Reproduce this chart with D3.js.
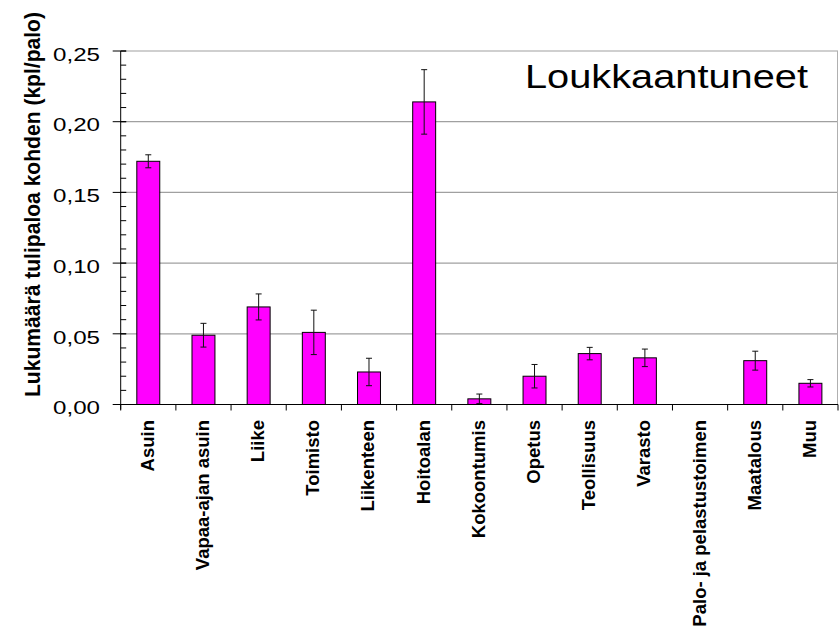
<!DOCTYPE html>
<html>
<head>
<meta charset="utf-8">
<script src="https://cdn.jsdelivr.net/npm/d3@7"></script>
<style>
  html, body { margin: 0; padding: 0; background: #fff; }
  svg { display: block; }
  text { font-family: Arial, "Liberation Sans", sans-serif; }
</style>
</head>
<body>
<svg id="chart" width="840" height="631"></svg>
<script>
const categories = ["Asuin", "Vapaa-ajan asuin", "Liike", "Toimisto", "Liikenteen", "Hoitoalan",
  "Kokoontumis", "Opetus", "Teollisuus", "Varasto", "Palo- ja pelastustoimen", "Maatalous", "Muu"];
const values = [0.172, 0.049, 0.069, 0.051, 0.023, 0.214, 0.004, 0.020, 0.036, 0.033, 0.000, 0.031, 0.015];
const errors = [0.0046, 0.0084, 0.0092, 0.0157, 0.0097, 0.0228, 0.0034, 0.0083, 0.0044, 0.0062, 0.0000, 0.0067, 0.0026];
const yTicks = [0, 0.05, 0.10, 0.15, 0.20, 0.25];
const yMinorTicks = d3.range(0, 0.2501, 0.01);
const chartTitle = "Loukkaantuneet";
const yTitle = "Lukumäärä tulipaloa kohden (kpl/palo)";

const pL = 120.7, pR = 838, pT = 51, pB = 404.5;
const svg = d3.select("#chart");

const x = d3.scaleBand().domain(categories).range([pL, pR]).paddingInner(0.584).paddingOuter(0.292);
const xb = d3.scaleBand().domain(categories).range([pL, pR]).padding(0);
const y = d3.scaleLinear().domain([0, 0.25]).range([pB, pT]);
const fmt = d3.formatLocale({decimal: ",", thousands: " ", grouping: [3], currency: ["", "€"]}).format(".2f");

// gridlines
svg.append("g").selectAll("line").data(yTicks.filter(d => d > 0)).join("line")
  .attr("x1", pL).attr("x2", pR)
  .attr("y1", d => y(d)).attr("y2", d => y(d))
  .attr("stroke", "#a0a0a0").attr("stroke-width", 1.2);

// right border
svg.append("line").attr("x1", pR - 0.5).attr("x2", pR - 0.5).attr("y1", pT).attr("y2", pB)
  .attr("stroke", "#b0b0b0").attr("stroke-width", 1);

// bars
svg.append("g").selectAll("rect").data(categories).join("rect")
  .attr("x", d => x(d)).attr("width", x.bandwidth())
  .attr("y", (d, i) => y(values[i])).attr("height", (d, i) => y(0) - y(values[i]))
  .attr("fill", "#ff00ff").attr("stroke", "#000").attr("stroke-width", 1);

// error bars
const eb = svg.append("g").attr("stroke", "#111").attr("stroke-width", 1);
categories.forEach((c, i) => {
  if (errors[i] <= 0) return;
  const cx = x(c) + x.bandwidth() / 2;
  const y1 = y(values[i] + errors[i]), y2 = y(Math.max(0, values[i] - errors[i]));
  eb.append("line").attr("x1", cx).attr("x2", cx).attr("y1", y1).attr("y2", y2);
  eb.append("line").attr("x1", cx - 3).attr("x2", cx + 3).attr("y1", y1).attr("y2", y1);
  eb.append("line").attr("x1", cx - 3).attr("x2", cx + 3).attr("y1", y2).attr("y2", y2);
});

// y axis
const ya = svg.append("g").attr("stroke", "#000").attr("stroke-width", 1);
ya.append("line").attr("x1", pL).attr("x2", pL).attr("y1", pT).attr("y2", pB + 5);
ya.selectAll("line.minor").data(yMinorTicks).join("line").attr("class", "minor")
  .attr("x1", pL).attr("x2", pL + 5.5)
  .attr("y1", d => y(d)).attr("y2", d => y(d));
ya.selectAll("line.major").data(yTicks).join("line").attr("class", "major")
  .attr("x1", pL - 8).attr("x2", pL + 5.5)
  .attr("y1", d => y(d)).attr("y2", d => y(d));

svg.append("g").selectAll("text").data(yTicks).join("text")
  .attr("x", 100).attr("y", d => y(d) + 9.7)
  .attr("text-anchor", "end")
  .attr("font-size", 18.6)
  .attr("textLength", 47).attr("lengthAdjust", "spacingAndGlyphs")
  .attr("fill", "#000")
  .text(d => fmt(d));

// x axis
const xa = svg.append("g").attr("stroke", "#000").attr("stroke-width", 1);
xa.append("line").attr("x1", pL).attr("x2", pR).attr("y1", pB).attr("y2", pB);
xa.selectAll("line.t").data(categories.concat(["__end"])).join("line").attr("class", "t")
  .attr("x1", (d, i) => i < categories.length ? xb(d) : pR)
  .attr("x2", (d, i) => i < categories.length ? xb(d) : pR)
  .attr("y1", pB).attr("y2", pB + 6);

// x labels
svg.append("g").selectAll("text").data(categories).join("text")
  .attr("transform", d => `translate(${x(d) + x.bandwidth() / 2 + 5.5},420) rotate(-90)`)
  .attr("text-anchor", "end")
  .attr("font-size", 18.5).attr("font-weight", "bold")
  .attr("fill", "#000")
  .text(d => d);

// y title
svg.append("text")
  .attr("transform", "translate(39.5,204.5) rotate(-90)")
  .attr("text-anchor", "middle")
  .attr("font-size", 21.5).attr("font-weight", "bold")
  .attr("textLength", 385).attr("lengthAdjust", "spacingAndGlyphs")
  .attr("fill", "#000")
  .text(yTitle);

// chart title
svg.append("text")
  .attr("x", 525).attr("y", 88)
  .attr("font-size", 32.5)
  .attr("textLength", 283).attr("lengthAdjust", "spacingAndGlyphs")
  .attr("fill", "#000")
  .text(chartTitle);
</script>
</body>
</html>
